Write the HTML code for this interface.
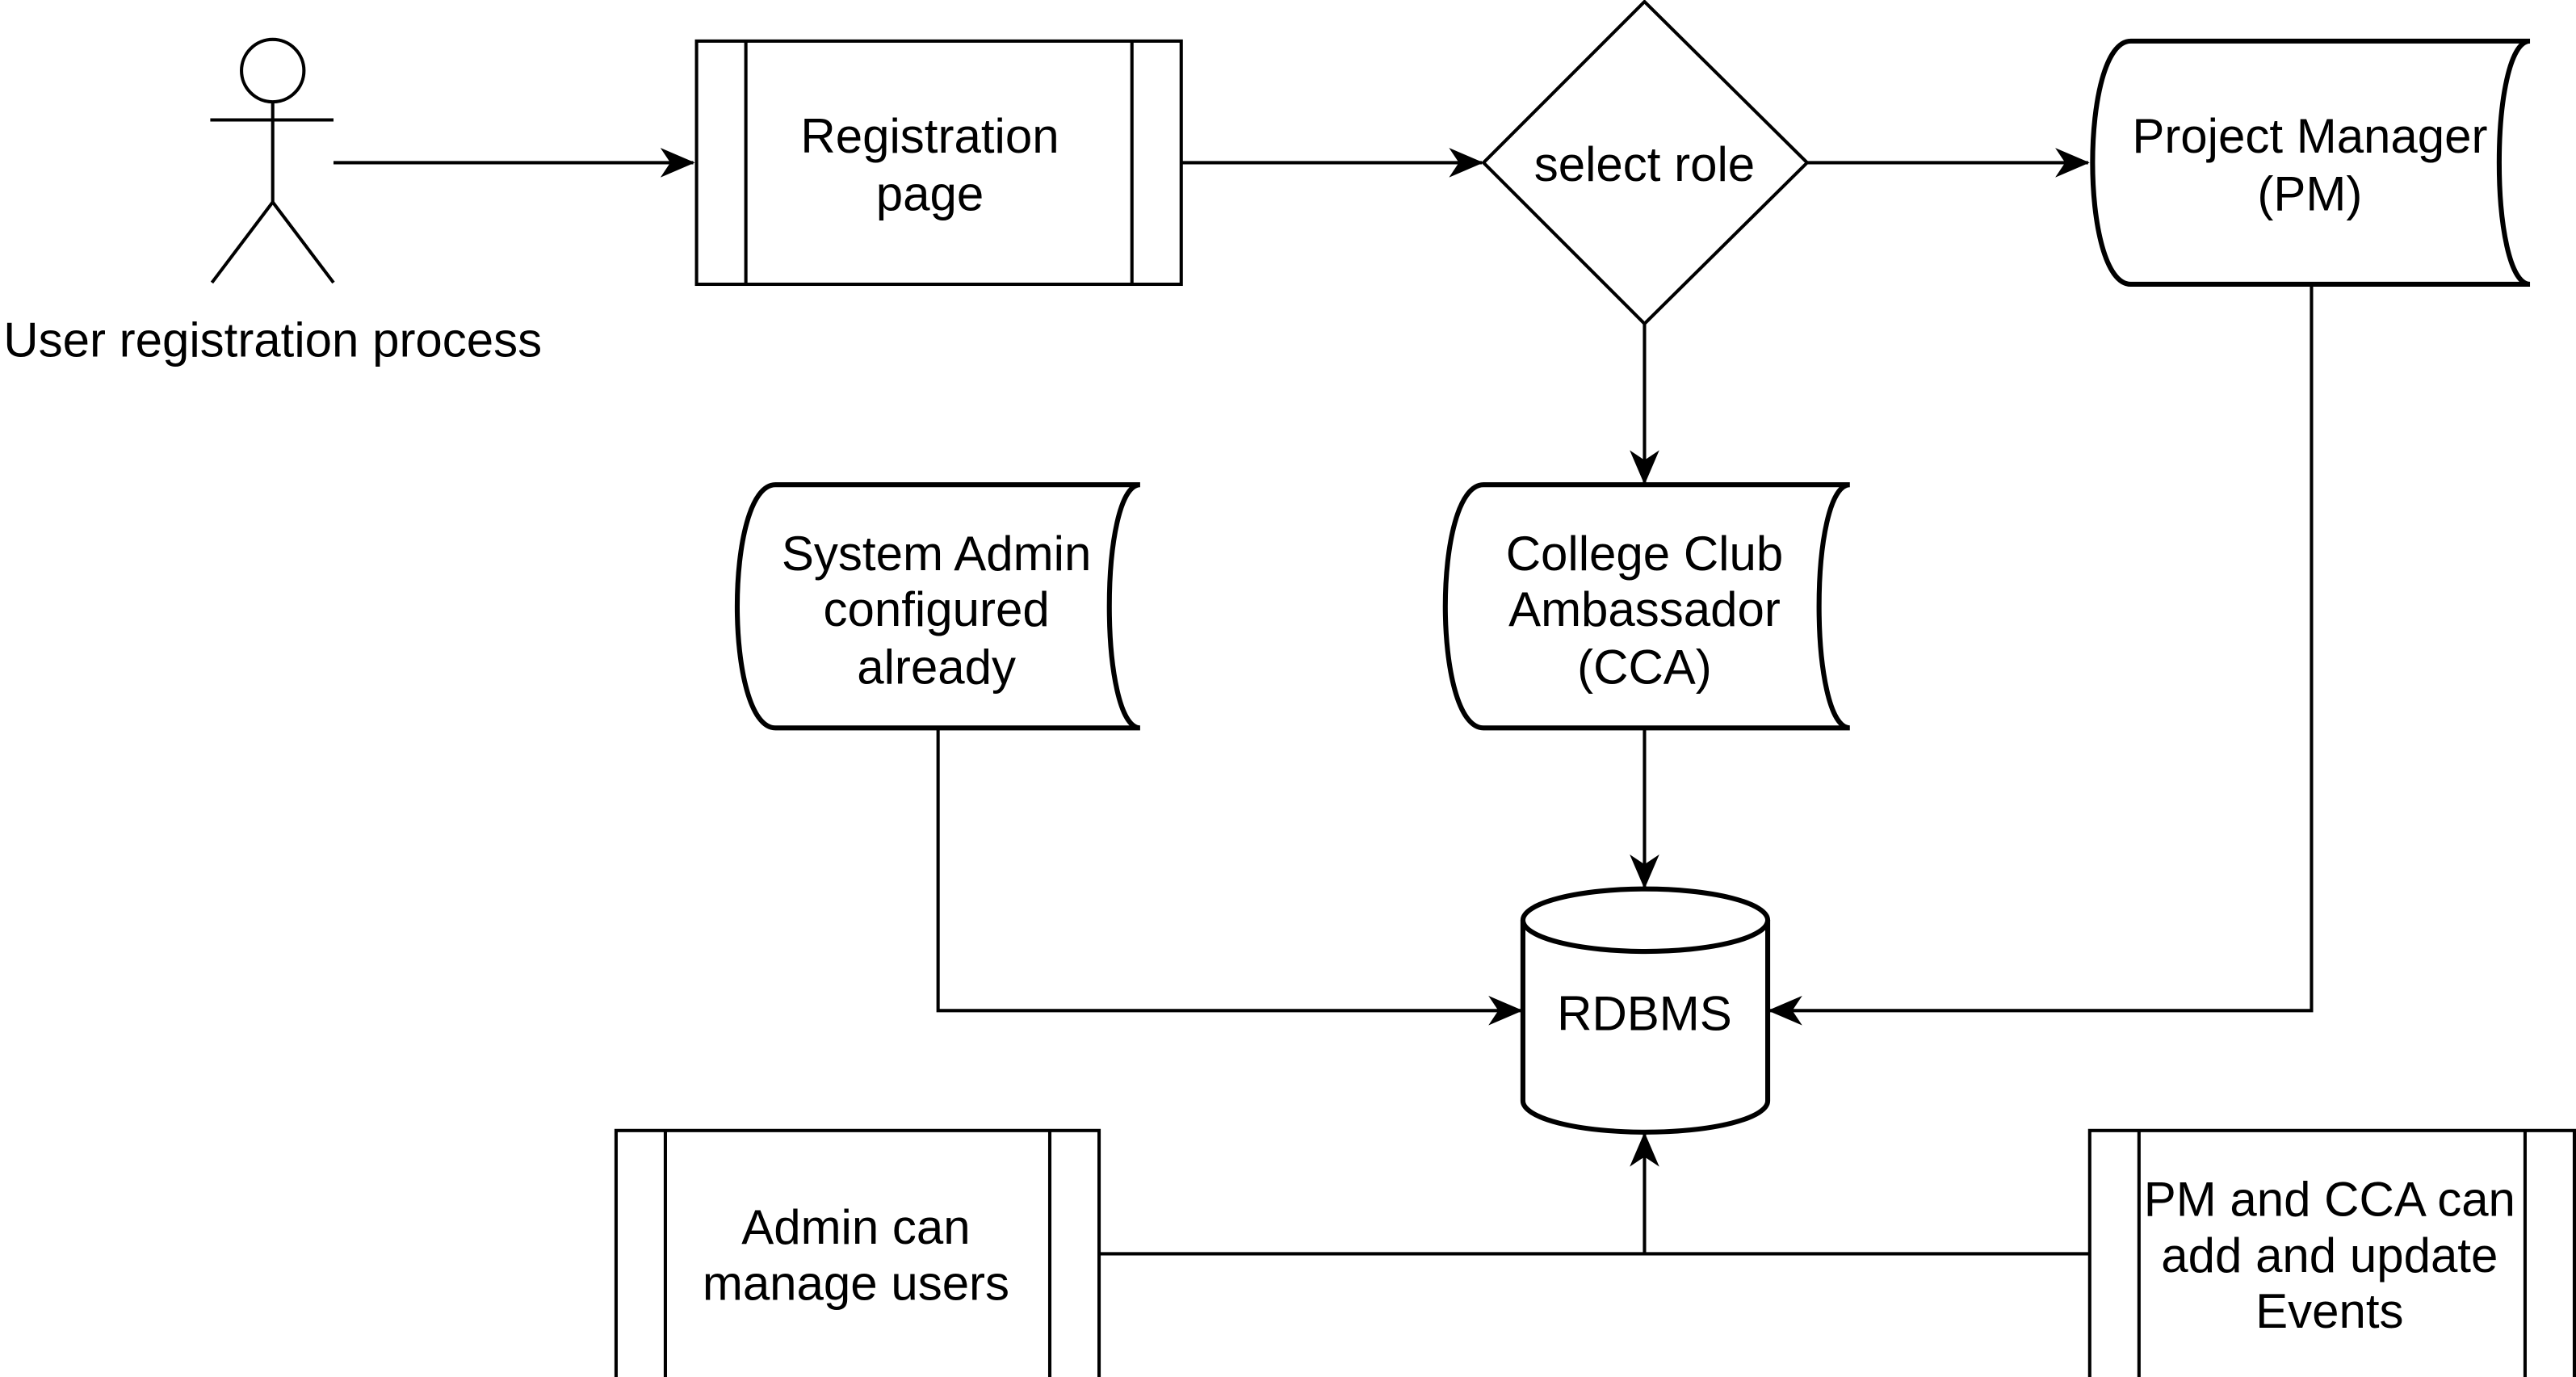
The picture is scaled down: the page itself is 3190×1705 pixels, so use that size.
<!DOCTYPE html>
<html><head><meta charset="utf-8"><style>html,body{margin:0;padding:0;background:#fff}svg{display:block}</style></head>
<body>
<svg width="3190" height="1705" viewBox="0 0 1568 838" preserveAspectRatio="none" xmlns="http://www.w3.org/2000/svg">
<defs>
<marker id="a" markerUnits="userSpaceOnUse" markerWidth="22" markerHeight="18" refX="20" refY="9" orient="auto">
<path d="M0,0 L21,9 L0,18 L6,9 z" fill="#000"/>
</marker>
</defs>
<g fill="none" stroke="#000" stroke-width="2">
<circle cx="166" cy="43" r="19" fill="#fff"/>
<line x1="166" y1="62" x2="166" y2="123"/>
<line x1="128" y1="73" x2="203" y2="73"/>
<line x1="166" y1="123" x2="129" y2="172"/>
<line x1="166" y1="123" x2="203" y2="172"/>
<line x1="203" y1="99" x2="422" y2="99" marker-end="url(#a)"/>
<line x1="719" y1="99" x2="902" y2="99" marker-end="url(#a)"/>
<line x1="1100" y1="99" x2="1271" y2="99" marker-end="url(#a)"/>
<line x1="1001" y1="197" x2="1001" y2="294" marker-end="url(#a)"/>
<line x1="1001" y1="443" x2="1001" y2="540" marker-end="url(#a)"/>
<polyline points="1407,173 1407,615 1077,615" marker-end="url(#a)"/>
<polyline points="571,443 571,615 926,615" marker-end="url(#a)"/>
<line x1="669" y1="763" x2="1272" y2="763"/>
<line x1="1001" y1="763" x2="1001" y2="690" marker-end="url(#a)"/>
<rect x="424" y="25" width="295" height="148" fill="#fff"/>
<line x1="454" y1="25" x2="454" y2="173"/><line x1="689" y1="25" x2="689" y2="173"/>
<polygon points="1001,1 1100,99 1001,197 903,99" fill="#fff"/>
<rect x="375" y="688" width="294" height="152" fill="#fff"/>
<line x1="405" y1="688" x2="405" y2="840"/><line x1="639" y1="688" x2="639" y2="840"/>
<rect x="1272" y="688" width="295" height="152" fill="#fff"/>
<line x1="1302" y1="688" x2="1302" y2="840"/><line x1="1537" y1="688" x2="1537" y2="840"/>
</g>
<g fill="#fff" stroke="#000" stroke-width="3">
<path d="M1297,25 L1540,25 C1515,25 1515,173 1540,173 L1297,173 C1266,173 1266,25 1297,25 Z"/>
<path d="M903,295 L1126,295 C1101,295 1101,443 1126,443 L903,443 C872,443 872,295 903,295 Z"/>
<path d="M472,295 L694,295 C669,295 669,443 694,443 L472,443 C441,443 441,295 472,295 Z"/>
<path d="M927,560 A74.5,19 0 0 1 1076,560 L1076,670 A74.5,19 0 0 1 927,670 Z"/>
<path d="M927,560 A74.5,19 0 0 0 1076,560" fill="none"/>
</g>
<g font-family="Liberation Sans, sans-serif" font-size="29.5" text-anchor="middle" fill="#000">
<text x="166" y="217">User registration process</text>
<text x="566" y="93">Registration</text><text x="566" y="128">page</text>
<text x="1001" y="110">select role</text>
<text x="1406" y="93">Project Manager</text><text x="1406" y="128">(PM)</text>
<text x="1001" y="347">College Club</text><text x="1001" y="381">Ambassador</text><text x="1001" y="416">(CCA)</text>
<text x="570" y="347">System Admin</text><text x="570" y="381">configured</text><text x="570" y="416">already</text>
<text x="1001" y="627">RDBMS</text>
<text x="521" y="757">Admin can</text><text x="521" y="791">manage users</text>
<text x="1418" y="740">PM and CCA can</text><text x="1418" y="774">add and update</text><text x="1418" y="808">Events</text>
</g>
</svg>
</body></html>
